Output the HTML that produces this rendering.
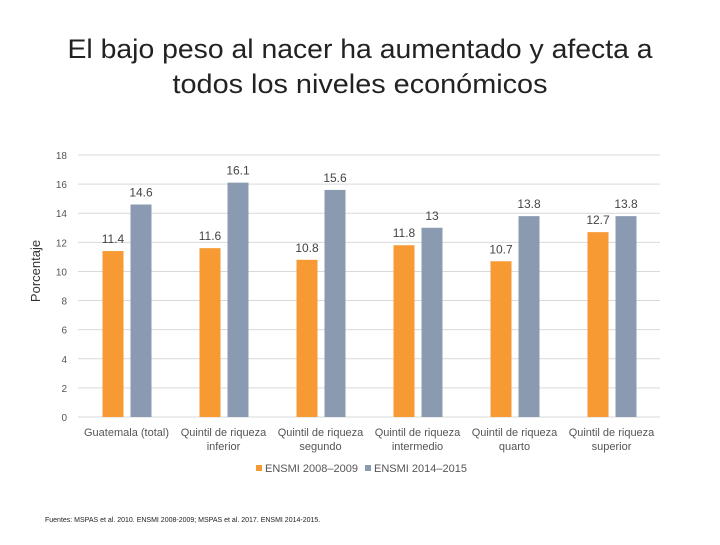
<!DOCTYPE html>
<html><head><meta charset="utf-8"><style>
body{margin:0;background:#fff;font-family:"Liberation Sans",sans-serif;}
svg text{font-family:"Liberation Sans",sans-serif;}
</style></head><body>
<svg width="720" height="540" xmlns="http://www.w3.org/2000/svg">
<text x="360" y="58" text-anchor="middle" font-size="27" fill="#222" textLength="585" lengthAdjust="spacingAndGlyphs">El bajo peso al nacer ha aumentado y afecta a</text>
<text x="360" y="93" text-anchor="middle" font-size="27" fill="#222" textLength="375" lengthAdjust="spacingAndGlyphs">todos los niveles económicos</text>
<text transform="translate(40,271) rotate(-90)" text-anchor="middle" font-size="13" fill="#333">Porcentaje</text>
<g id="grid"></g><g id="bars"></g>
<g>
<rect x="256" y="465" width="6" height="6" fill="#f79a34"/>
<text x="265" y="472" font-size="11" fill="#555">ENSMI 2008–2009</text>
<rect x="365" y="465" width="6" height="6" fill="#8a9bb1"/>
<text x="374" y="472" font-size="11" fill="#555">ENSMI 2014–2015</text>
</g>
<text x="45" y="522" font-size="7" fill="#222">Fuentes: MSPAS et al. 2010. ENSMI 2008-2009; MSPAS et al. 2017. ENSMI 2014-2015.</text>
</svg>
<script>
const categories=[["Guatemala (total)",""],["Quintil de riqueza","inferior"],["Quintil de riqueza","segundo"],["Quintil de riqueza","intermedio"],["Quintil de riqueza","quarto"],["Quintil de riqueza","superior"]];
const series2008=[11.4,11.6,10.8,11.8,10.7,12.7];
const series2014=[14.6,16.1,15.6,13,13.8,13.8];
const yTicks=[0,2,4,6,8,10,12,14,16,18];
const NS="http://www.w3.org/2000/svg";
const x0=78,x1=660,yb=417,yt=155,ymax=18;
const y=v=>yb-(yb-yt)*v/ymax;
const gw=(x1-x0)/categories.length;
const cx=i=>x0+gw*(i+0.5);
function mk(t,a,p){const e=document.createElementNS(NS,t);for(const k in a)e.setAttribute(k,a[k]);p.appendChild(e);return e;}
const grid=document.getElementById('grid'),bars=document.getElementById('bars');
yTicks.forEach(v=>{
 const l=mk('line',{x1:x0,x2:x1,y1:y(v),y2:y(v),stroke:'#d9d9d9','stroke-width':1},grid);
 
 
 const t=mk('text',{x:67,y:y(v)+4,'text-anchor':'end','font-size':10,fill:'#555'},grid);
 t.textContent=v;
 
 
});
categories.forEach((c,i)=>{
 [[series2008,'#f79a34',-24,'2008'],[series2014,'#8a9bb1',4,'2014']].forEach(([s,col,off,nm])=>{
  const v=s[i];
  const r=mk('rect',{x:cx(i)+off,y:y(v),width:21,height:yb-y(v),fill:col},bars);
  
  
  const t=mk('text',{x:cx(i)+off+10.5,y:y(v)-8,'text-anchor':'middle','font-size':12,fill:'#444'},bars);
  t.textContent=v;
  
  
 });
 c.forEach((line,j)=>{
  if(!line)return;
  const t=mk('text',{x:cx(i),y:436+j*14,'text-anchor':'middle','font-size':11,fill:'#555'},bars);
  t.textContent=line;
  
  
 });
});
</script>
</body></html>
